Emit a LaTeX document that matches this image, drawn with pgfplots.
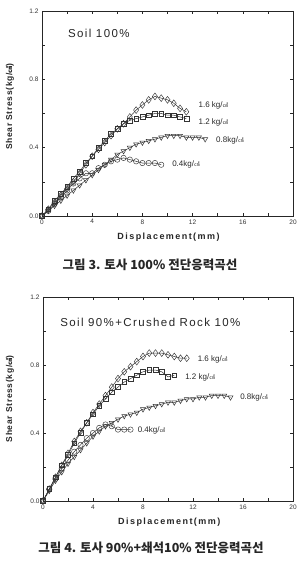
\documentclass[border=0pt]{standalone}
\usepackage{fontspec}
\setmainfont{Liberation Sans}
\newfontfamily\kr{Noto Sans CJK KR}
\usepackage{pgfplots}
\pgfplotsset{compat=1.18}
\newcommand{\unitsq}{{\kr\fontsize{5.5}{6}\selectfont ㎠}}
\newcommand{\unitsqb}{{\kr\bfseries\fontsize{7}{8}\selectfont ㎠}}
\pgfplotsset{myax/.style={
  scale only axis, xmin=0, xmax=20, ymin=0, ymax=1.2,
  xtick={0,4,...,20}, ytick={0,0.4,0.8,1.2}, minor tick num=1,
  tick align=inside, major tick length=3pt, minor tick length=3pt,
  /pgf/number format/assume math mode=true,
  yticklabel style={/pgf/number format/fixed,/pgf/number format/precision=1,/pgf/number format/fixed zerofill},
  ticklabel style={font=\fontsize{6.5}{7}\selectfont, text=black!80},
  axis line style={line width=0.6pt, black!85},
  tick style={line width=0.5pt, black!85},
  clip=false,
  every axis plot/.append style={black!80, line width=0.5pt, mark size=2.9pt, mark options={solid, fill=white, line width=0.45pt}},
}}
\tikzset{lab/.style={anchor=west, font=\fontsize{8}{9}\selectfont, text=black!85},
  ttl/.style={anchor=west, font=\addfontfeature{LetterSpace=12}\fontsize{11.5}{13}\selectfont, text=black!85}}
\begin{document}
\begin{tikzpicture}
\path[use as bounding box] (0pt,0pt) rectangle (301pt,575pt);
% ---------- Top chart ----------
\begin{axis}[myax, at={(42pt,359pt)}, anchor=south west, width=251pt, height=205pt]
\addplot[mark=diamond, mark size=3.4pt] coordinates {(0,0) (0.5,0.04) (1,0.08) (1.5,0.12) (2,0.16) (2.5,0.2) (3,0.25) (3.5,0.3) (4,0.35) (4.5,0.39) (5,0.43) (5.5,0.47) (6,0.51) (6.5,0.54) (7,0.58) (7.5,0.62) (8,0.65) (8.5,0.68) (9,0.70) (9.5,0.69) (10,0.68) (10.5,0.66) (11,0.63) (11.5,0.61)};
\addplot[mark=square, mark size=2.4pt, mark options={solid, fill=white, line width=0.4pt}] coordinates {(0,0) (0.5,0.04) (1,0.09) (1.5,0.13) (2,0.17) (2.5,0.22) (3,0.26) (3.5,0.31) (4,0.35) (4.5,0.40) (5,0.44) (5.5,0.48) (6,0.51) (6.5,0.54) (7,0.56) (7.5,0.57) (8,0.58) (8.5,0.59) (9,0.60) (9.5,0.60) (10,0.59) (10.5,0.59) (11,0.58) (11.5,0.57)};
\addplot[mark=triangle, mark options={rotate=180, fill=white}] coordinates {(0,0) (0.5,0.03) (1,0.06) (1.5,0.09) (2,0.12) (2.5,0.15) (3,0.18) (3.5,0.21) (4,0.24) (4.5,0.27) (5,0.30) (5.5,0.33) (6,0.36) (6.5,0.38) (7,0.40) (7.5,0.42) (8,0.43) (8.5,0.44) (9,0.45) (9.5,0.46) (10,0.47) (10.5,0.47) (11,0.47) (11.5,0.46) (12,0.46) (12.5,0.46) (13,0.45)};
\addplot[mark=o, mark size=2.7pt] coordinates {(0,0) (0.5,0.03) (1,0.07) (1.5,0.11) (2,0.15) (2.5,0.19) (3,0.22) (3.5,0.25) (4,0.25) (4.5,0.28) (5,0.30) (5.5,0.32) (6,0.33) (6.5,0.34) (7,0.33) (7.5,0.32) (8,0.31) (8.5,0.31) (9,0.31) (9.5,0.30)};
\node[ttl] at (axis cs:1.8,1.07) {Soil 100\%};
\node[lab] at (axis cs:12.2,0.645) {1.6 kg/\unitsq};
\node[lab] at (axis cs:12.2,0.545) {1.2 kg/\unitsq};
\node[lab] at (axis cs:13.6,0.44) {0.8kg/\unitsq};
\node[lab] at (axis cs:10.1,0.30) {0.4kg/\unitsq};
\node[rotate=90, font=\bfseries\addfontfeature{LetterSpace=8}\fontsize{8.5}{9}\selectfont, text=black!85] at (rel axis cs:-0.128,0.534) {Shear Stress(kg/\unitsqb)};
\node[font=\bfseries\addfontfeature{LetterSpace=16}\fontsize{9}{10}\selectfont, text=black!85] at (rel axis cs:0.504,-0.102) {Displacement(mm)};
\end{axis}
\node[font=\kr\bfseries\fontsize{12.5}{14}\selectfont, text=black!85] at (150pt,310pt) {그림 3. 토사 100\% 전단응력곡선};
% ---------- Bottom chart ----------
\begin{axis}[myax, at={(43pt,74pt)}, anchor=south west, width=250pt, height=204pt]
\addplot[mark=diamond, mark size=3.4pt] coordinates {(0,0) (0.5,0.07) (1,0.14) (1.5,0.21) (2,0.28) (2.5,0.35) (3,0.41) (3.5,0.46) (4,0.52) (4.5,0.57) (5,0.62) (5.5,0.67) (6,0.72) (6.5,0.76) (7,0.79) (7.5,0.82) (8,0.85) (8.5,0.87) (9,0.87) (9.5,0.87) (10,0.86) (10.5,0.85) (11,0.84) (11.5,0.84)};
\addplot[mark=square, mark size=2.4pt, mark options={solid, fill=white, line width=0.4pt}] coordinates {(0,0) (0.5,0.07) (1,0.14) (1.5,0.21) (2,0.27) (2.5,0.34) (3,0.40) (3.5,0.46) (4,0.51) (4.5,0.56) (5,0.60) (5.5,0.64) (6,0.67) (6.5,0.70) (7,0.72) (7.5,0.74) (8,0.76) (8.5,0.77) (9,0.77) (9.5,0.76) (10,0.73) (10.5,0.74)};
\addplot[mark=triangle, mark options={rotate=180, fill=white}] coordinates {(0,0) (0.5,0.06) (1,0.12) (1.5,0.17) (2,0.22) (2.5,0.26) (3,0.30) (3.5,0.34) (4,0.38) (4.5,0.41) (5,0.44) (5.5,0.46) (6,0.48) (6.5,0.50) (7,0.51) (7.5,0.52) (8,0.54) (8.5,0.55) (9,0.56) (9.5,0.57) (10,0.58) (10.5,0.58) (11,0.59) (11.5,0.60) (12,0.60) (12.5,0.61) (13,0.61) (13.5,0.62) (14,0.62) (14.5,0.62) (15,0.61)};
\addplot[mark=o, mark size=2.7pt] coordinates {(0,0) (0.5,0.07) (1,0.13) (1.5,0.19) (2,0.24) (2.5,0.29) (3,0.33) (3.5,0.37) (4,0.40) (4.5,0.43) (5,0.45) (5.5,0.44) (6,0.42) (6.5,0.42) (7,0.42)};
\node[ttl] at (axis cs:1.1,1.05) {Soil 90\%+Crushed Rock 10\%};
\node[lab] at (axis cs:12.1,0.835) {1.6 kg/\unitsq};
\node[lab] at (axis cs:11.1,0.726) {1.2 kg/\unitsq};
\node[lab] at (axis cs:15.5,0.61) {0.8kg/\unitsq};
\node[lab] at (axis cs:7.3,0.417) {0.4kg/\unitsq};
\node[rotate=90, font=\bfseries\addfontfeature{LetterSpace=8}\fontsize{8.5}{9}\selectfont, text=black!85] at (rel axis cs:-0.132,0.5) {Shear Stress(kg/\unitsqb)};
\node[font=\bfseries\addfontfeature{LetterSpace=16}\fontsize{9}{10}\selectfont, text=black!85] at (rel axis cs:0.505,-0.106) {Displacement(mm)};
\end{axis}
\node[font=\kr\bfseries\fontsize{12.5}{14}\selectfont, text=black!85] at (151pt,27pt) {그림 4. 토사 90\%+쇄석10\% 전단응력곡선};
\end{tikzpicture}
\end{document}
